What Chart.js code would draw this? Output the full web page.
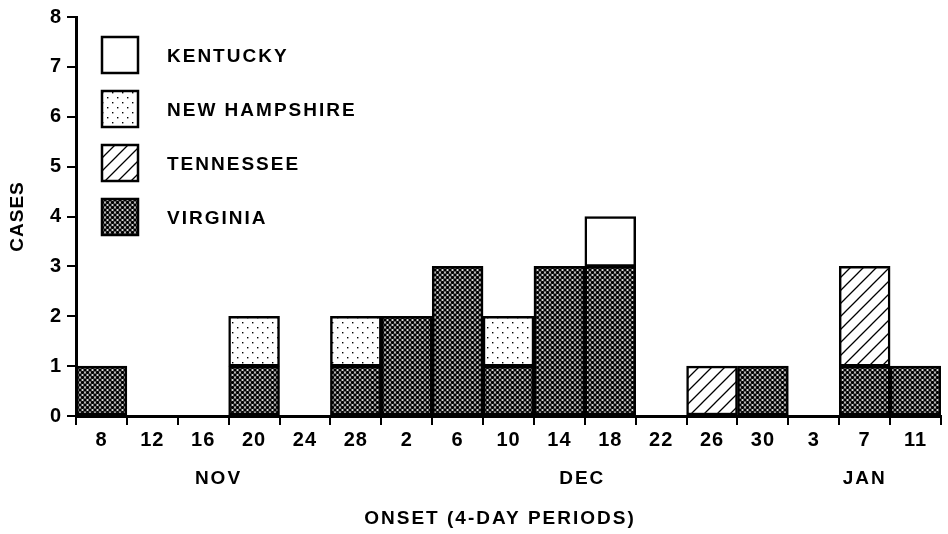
<!DOCTYPE html>
<html>
<head>
<meta charset="utf-8">
<script src="https://cdn.jsdelivr.net/npm/chart.js@4"></script>
<style>
  html, body { margin: 0; padding: 0; background: #fff; }
  #wrap { width: 948px; height: 534px; }
</style>
</head>
<body>
<div id="wrap"><canvas id="myChart"></canvas></div>
<script>
// onset periods (first day of each 4-day period)
const periods = ['8', '12', '16', '20', '24', '28', '2', '6', '10', '14', '18', '22', '26', '30', '3', '7', '11'];
const virginia     = [1, 0, 0, 1, 0, 1, 2, 3, 1, 3, 3, 0, 0, 1, 0, 1, 1];
const newHampshire = [0, 0, 0, 1, 0, 1, 0, 0, 1, 0, 0, 0, 0, 0, 0, 0, 0];
const tennessee    = [0, 0, 0, 0, 0, 0, 0, 0, 0, 0, 0, 0, 1, 0, 0, 2, 0];
const kentucky     = [0, 0, 0, 0, 0, 0, 0, 0, 0, 0, 1, 0, 0, 0, 0, 0, 0];
const yTicks = [0, 1, 2, 3, 4, 5, 6, 7, 8];
const months = ['NOV', 'DEC', 'JAN'];
const monthAt = [2.3, 9.45, 15];   // position in period units

const FONT = "'Liberation Sans', Arial, sans-serif";

function makePattern(size, draw) {
  const c = document.createElement('canvas');
  c.width = size; c.height = size;
  const g = c.getContext('2d');
  g.fillStyle = '#fff';
  g.fillRect(0, 0, size, size);
  g.fillStyle = '#000';
  g.strokeStyle = '#000';
  draw(g, size);
  return document.getElementById('myChart').getContext('2d').createPattern(c, 'repeat');
}

const dense = makePattern(5, (g, s) => {
  [[0, 0], [s, 0], [0, s], [s, s], [s / 2, s / 2]].forEach(p => {
    g.beginPath(); g.arc(p[0], p[1], 1.8, 0, Math.PI * 2); g.fill();
  });
});
const dots = makePattern(10, (g) => {
  g.fillRect(2, 2, 1.4, 1.4);
  g.fillRect(7, 7, 1.4, 1.4);
});
const hatch = makePattern(13, (g, s) => {
  g.lineWidth = 1.3;
  g.beginPath();
  g.moveTo(0, s); g.lineTo(s, 0);
  g.moveTo(-2, 2); g.lineTo(2, -2);
  g.moveTo(s - 2, s + 2); g.lineTo(s + 2, s - 2);
  g.stroke();
});

const legendOrder = ['KENTUCKY', 'NEW HAMPSHIRE', 'TENNESSEE', 'VIRGINIA'];

const extras = {
  id: 'extras',
  beforeDraw(chart) {
    chart.ctx.letterSpacing = '1px';
  },
  afterDraw(chart) {
    const ctx = chart.ctx;
    const x = chart.scales.x;
    const w = (x.right - x.left) / periods.length;
    ctx.save();
    ctx.fillStyle = '#000';
    ctx.font = 'bold 19px ' + FONT;
    ctx.letterSpacing = '2px';
    ctx.textAlign = 'center';
    ctx.textBaseline = 'middle';
    months.forEach((m, i) => {
      ctx.fillText(m, x.left + (monthAt[i] + 0.5) * w, 479);
    });
    ctx.fillText('ONSET (4-DAY PERIODS)', 500, 519);

    // legend
    ctx.textAlign = 'left';
    ctx.font = 'bold 19px ' + FONT;
    ctx.letterSpacing = '2px';
    legendOrder.forEach((name, i) => {
      const ds = chart.data.datasets.find(d => d.label === name);
      const by = 36 + i * 54;
      ctx.fillStyle = ds.backgroundColor;
      ctx.fillRect(101, by, 38, 38);
      ctx.lineWidth = 2.5;
      ctx.strokeStyle = '#000';
      ctx.strokeRect(102, by + 1, 36, 36);
      ctx.fillStyle = '#000';
      ctx.fillText(name, 167, by + 21);
    });
    ctx.restore();
  }
};

const ctx = document.getElementById('myChart').getContext('2d');
const myChart = new Chart(ctx, {
  type: 'bar',
  data: {
    labels: periods,
    datasets: [
      { label: 'VIRGINIA', data: virginia.map(v => v || null), backgroundColor: dense },
      { label: 'NEW HAMPSHIRE', data: newHampshire.map(v => v || null), backgroundColor: dots },
      { label: 'TENNESSEE', data: tennessee.map(v => v || null), backgroundColor: hatch },
      { label: 'KENTUCKY', data: kentucky.map(v => v || null), backgroundColor: '#fff' }
    ].map(d => Object.assign(d, {
      borderColor: '#000',
      borderWidth: 2.5,
      borderSkipped: false,
      barPercentage: 1,
      categoryPercentage: 1
    }))
  },
  options: {
    responsive: true,
    maintainAspectRatio: false,
    animation: false,
    layout: { padding: { top: 12, right: 7, bottom: 0, left: 0 } },
    plugins: {
      legend: { display: false },
      tooltip: { enabled: false }
    },
    scales: {
      x: {
        stacked: true,
        afterFit: s => { s.height = 118; },
        grid: { offset: true, drawOnChartArea: false, tickLength: 9, color: '#000', lineWidth: 2 },
        border: { color: '#000', width: 3 },
        ticks: { color: '#000', font: { family: FONT, size: 20, weight: 'bold' }, padding: 3, maxRotation: 0, autoSkip: false }
      },
      y: {
        stacked: true,
        min: 0,
        max: 8,
        afterFit: s => { s.width = 76; },
        afterBuildTicks: s => { s.ticks = yTicks.map(v => ({ value: v })); },
        grid: { drawOnChartArea: false, tickLength: 9, color: '#000', lineWidth: 2 },
        border: { color: '#000', width: 3 },
        ticks: { color: '#000', font: { family: FONT, size: 20, weight: 'bold' }, padding: 5 },
        title: { display: true, text: 'CASES', color: '#000', font: { family: FONT, size: 19, weight: 'bold' }, padding: { top: 6, bottom: 0 } }
      }
    }
  },
  plugins: [extras]
});
</script>
</body>
</html>
